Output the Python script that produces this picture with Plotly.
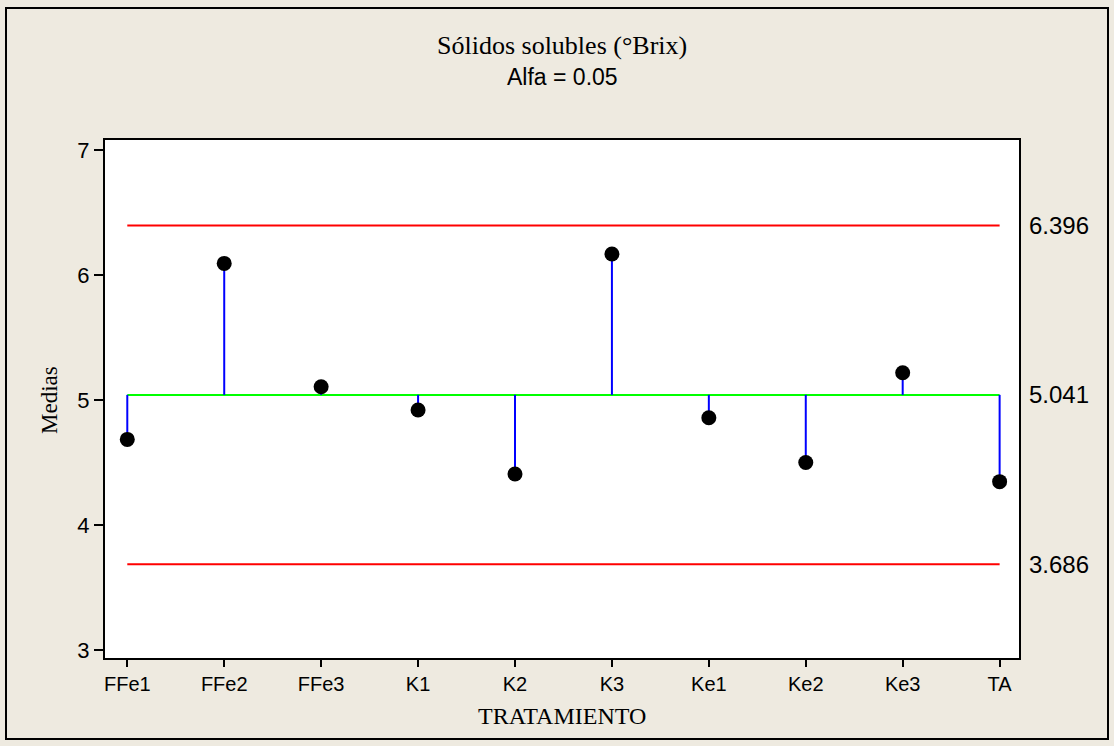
import plotly.graph_objects as go

categories = ["FFe1", "FFe2", "FFe3", "K1", "K2", "K3", "Ke1", "Ke2", "Ke3", "TA"]
means = [4.685, 6.093, 5.106, 4.920, 4.408, 6.168, 4.858, 4.500, 5.218, 4.347]
center = 5.041
upper = 6.396
lower = 3.686
y_ticks = [3, 4, 5, 6, 7]

W, H = 1114, 746
L, R, T, B = 105, 95, 140, 88
pw, ph = W - L - R, H - T - B

fig = go.Figure()

# limit lines
for val, col in [(upper, "#FF0000"), (lower, "#FF0000"), (center, "#00FF00")]:
    fig.add_trace(go.Scatter(x=[categories[0], categories[-1]], y=[val, val], mode="lines",
                             line=dict(color=col, width=2), hoverinfo="skip", showlegend=False))

# stems
sx, sy = [], []
for c, m in zip(categories, means):
    sx += [c, c, None]
    sy += [center, m, None]
fig.add_trace(go.Scatter(x=sx, y=sy, mode="lines", line=dict(color="#0000FF", width=2),
                         hoverinfo="skip", showlegend=False))

# points
fig.add_trace(go.Scatter(x=categories, y=means, mode="markers",
                         marker=dict(color="black", size=15), showlegend=False))

bg = "#EEEAE0"
fig.update_layout(
    width=W, height=H,
    margin=dict(l=L, r=R, t=T, b=B, pad=0),
    paper_bgcolor=bg, plot_bgcolor="white",
    showlegend=False,
    font=dict(family="Liberation Sans, Arial", color="black", size=20),
)
fig.update_xaxes(type="category", categoryorder="array", categoryarray=categories,
                 range=[-0.23, 9.2], showline=True, linecolor="black", linewidth=2, mirror=True,
                 ticks="outside", ticklen=7, tickwidth=2, tickcolor="black", showgrid=False,
                 zeroline=False, tickfont=dict(size=20))
fig.update_yaxes(range=[2.936, 7.08], tickvals=y_ticks, showline=True, linecolor="black", linewidth=2,
                 mirror=True, ticks="outside", ticklen=9, tickwidth=2, tickcolor="black", showgrid=False,
                 zeroline=False, tickfont=dict(size=22))

def px_to_paper_x(px):
    return (px - L) / pw

def px_to_paper_y(py):
    return (H - B - py) / ph

serif = "Liberation Serif, Times New Roman"
annotations = [
    dict(text="Sólidos solubles (°Brix)", x=0.5, y=px_to_paper_y(45), xref="paper", yref="paper",
         showarrow=False, font=dict(family=serif, size=26), xanchor="center", yanchor="middle"),
    dict(text="Alfa = 0.05", x=0.5, y=px_to_paper_y(77), xref="paper", yref="paper",
         showarrow=False, font=dict(family="Liberation Sans, Arial", size=23), xanchor="center", yanchor="middle"),
    dict(text="Medias", x=px_to_paper_x(49), y=px_to_paper_y(400), xref="paper", yref="paper", textangle=-90,
         showarrow=False, font=dict(family=serif, size=23), xanchor="center", yanchor="middle"),
    dict(text="TRATAMIENTO", x=0.5, y=px_to_paper_y(716), xref="paper", yref="paper",
         showarrow=False, font=dict(family=serif, size=24), xanchor="center", yanchor="middle"),
]
for val in [upper, center, lower]:
    annotations.append(dict(text=f"{val:.3f}", x=1, y=val, xref="paper", yref="y", xanchor="left",
                            yanchor="middle", xshift=8, showarrow=False,
                            font=dict(family="Liberation Sans, Arial", size=24)))
fig.update_layout(annotations=annotations)

fig.add_shape(type="rect", xref="paper", yref="paper",
              x0=px_to_paper_x(6), x1=px_to_paper_x(1108), y0=px_to_paper_y(739), y1=px_to_paper_y(8),
              line=dict(color="black", width=2), fillcolor="rgba(0,0,0,0)", layer="above")

fig.write_html("out.html", config={"displayModeBar": False},
               post_script="document.body.style.margin='0';")
